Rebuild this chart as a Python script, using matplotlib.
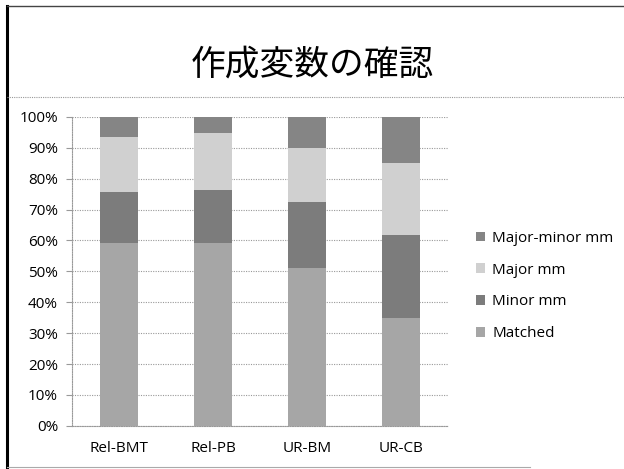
import numpy as np
import matplotlib.pyplot as plt
from matplotlib.lines import Line2D
from matplotlib.patches import Patch

plt.rcParams['font.family'] = ['Noto Sans CJK JP', 'DejaVu Sans']

categories = ['Rel-BMT', 'Rel-PB', 'UR-BM', 'UR-CB']
matched = [59.1, 59.3, 51.0, 34.9]
minor_mm = [16.5, 17.1, 21.3, 26.9]
major_mm = [17.8, 18.2, 17.6, 23.2]
major_minor_mm = [6.6, 5.4, 10.1, 15.0]

series = [
    ('Matched', matched, '#a6a6a6'),
    ('Minor mm', minor_mm, '#7c7c7c'),
    ('Major mm', major_mm, '#d0d0d0'),
    ('Major-minor mm', major_minor_mm, '#858585'),
]


def main():
    fig = plt.figure(figsize=(6.24, 4.69), dpi=100)

    # slide frame and title
    fig.add_artist(Line2D([0.011, 0.011], [0.0, 0.988], color='black', lw=2.2))
    fig.add_artist(Line2D([0.011, 1.0], [0.988, 0.988], color='#444444', lw=1.0))
    fig.add_artist(Line2D([0.011, 1.0], [0.793, 0.793], color='#999999', lw=0.8, ls=(0, (1, 1))))
    fig.add_artist(Line2D([0.011, 0.85], [0.004, 0.004], color='#aaaaaa', lw=0.8))
    fig.text(0.5, 0.862, '作成変数の確認', ha='center', va='center',
             fontsize=25, family=['Noto Sans CJK JP', 'DejaVu Sans'])

    ax = fig.add_axes([0.1154, 0.092, 0.603, 0.659])
    x = np.arange(len(categories))
    bottom = np.zeros(len(categories))
    for name, vals, color in series:
        ax.bar(x, vals, 0.4, bottom=bottom, color=color, zorder=3)
        bottom += np.array(vals)

    ax.set_xlim(-0.5, len(categories) - 0.5)
    ax.set_ylim(0, 100)
    ax.set_yticks(np.arange(0, 101, 10))
    ax.set_yticklabels([f'{v}%' for v in range(0, 101, 10)], family='Open Sans', fontsize=11)
    ax.set_xticks(x)
    ax.set_xticklabels(categories, family='Open Sans', fontsize=11)
    ax.tick_params(axis='x', length=0, pad=11)
    ax.tick_params(axis='y', length=4, color='#999999', pad=6)
    ax.grid(axis='y', color='#999999', ls=(0, (1, 1.2)), lw=0.8, zorder=0)
    for side in ['top', 'right']:
        ax.spines[side].set_visible(False)
    for side in ['left', 'bottom']:
        ax.spines[side].set_color('#999999')
        ax.spines[side].set_linestyle((0, (1, 1.2)))
        ax.spines[side].set_linewidth(0.8)

    handles = [Patch(facecolor=c, label=n) for n, v, c in reversed(series)]
    fig.legend(handles=handles, loc='center left', bbox_to_anchor=(0.763, 0.39),
               frameon=False, prop={'family': 'Open Sans', 'size': 11},
               handlelength=0.6, handleheight=0.6, handletextpad=0.45, labelspacing=1.1,
               borderaxespad=0, borderpad=0)

    fig.savefig('out.png', dpi=100)


if __name__ == "__main__":
    main()
